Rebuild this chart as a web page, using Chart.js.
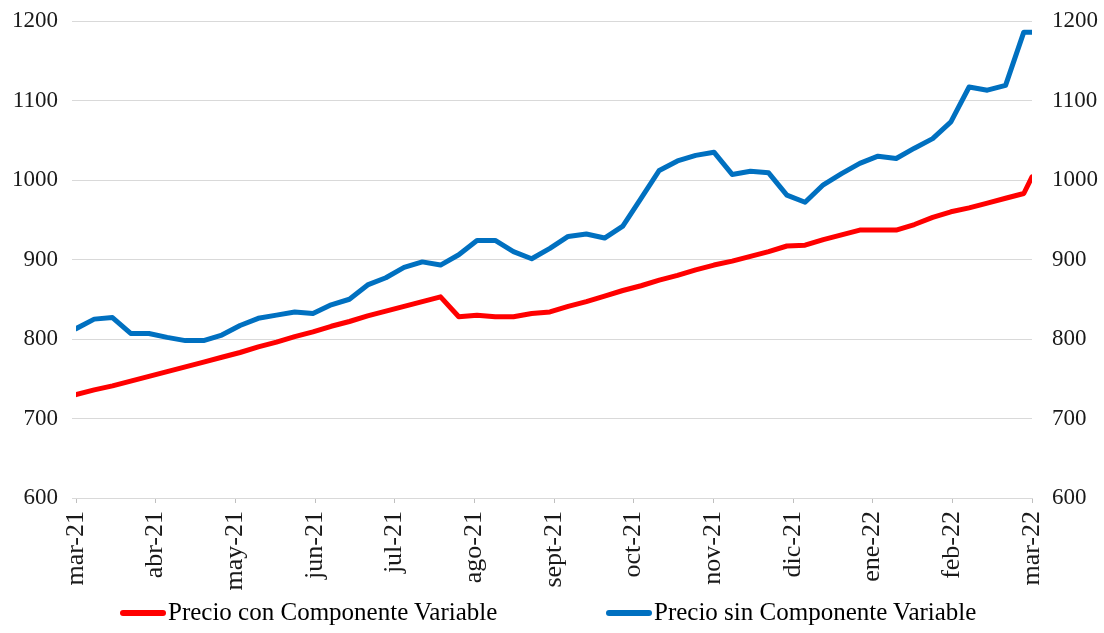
<!DOCTYPE html>
<html>
<head>
<meta charset="utf-8">
<script src="https://cdn.jsdelivr.net/npm/chart.js@4"></script>
<style>
    body { margin: 0; background: #fff; }
    #wrap { position: relative; width: 1104px; height: 633px; }
    #legenda { position: absolute; left: 0; top: 597px; width: 1104px; height: 30px;
        font-family: 'Liberation Serif', 'Times New Roman', serif; font-size: 25px; color: #000; }
    .item { position: absolute; top: 0; line-height: 30px; white-space: nowrap; }
    .linha { display: inline-block; width: 46px; height: 6px; border-radius: 3px; vertical-align: middle; margin-right: 2px; margin-top: -3px; }
</style>
</head>
<body>
<div id="wrap">
    <canvas id="chart-precios"></canvas>
    <div id="legenda"></div>
</div>
<script>
// meses del eje
const meses = ['mar-21', 'abr-21', 'may-21', 'jun-21', 'jul-21', 'ago-21', 'sept-21',
    'oct-21', 'nov-21', 'dic-21', 'ene-22', 'feb-22', 'mar-22'];

// semanas desde el inicio (la ultima es parcial)
const semanas = [0, 1, 2, 3, 4, 5, 6, 7, 8, 9, 10, 11, 12, 13, 14, 15, 16, 17, 18, 19,
    20, 21, 22, 23, 24, 25, 26, 27, 28, 29, 30, 31, 32, 33, 34, 35, 36, 37, 38, 39,
    40, 41, 42, 43, 44, 45, 46, 47, 48, 49, 50, 51, 52, 52.45];
const totalSemanas = 52.45;

const conVariable = [730, 736, 741, 747, 753, 759, 765, 771, 777, 783,
    790, 796, 803, 809, 816, 822, 829, 835, 841, 847,
    853, 828, 830, 828, 828, 832, 834, 841, 847, 854,
    861, 867, 874, 880, 887, 893, 898, 904, 910, 917,
    918, 925, 931, 937, 937, 937, 944, 953, 960, 965,
    971, 977, 983, 1004];

const sinVariable = [813, 825, 827, 807, 807, 802, 798, 798, 805, 817,
    826, 830, 834, 832, 843, 850, 868, 877, 890, 897,
    893, 906, 924, 924, 910, 901, 914, 929, 932, 927,
    942, 977, 1012, 1024, 1031, 1035, 1007, 1011, 1009, 981,
    972, 994, 1008, 1021, 1030, 1027, 1040, 1052, 1073, 1117,
    1113, 1119, 1186, 1186];

const series = [
    {label: 'Precio con Componente Variable', valores: conVariable, color: '#FF0000'},
    {label: 'Precio sin Componente Variable', valores: sinVariable, color: '#0070C0'}
];

const fonte = "'Liberation Serif', 'Times New Roman', serif";
Chart.defaults.font.family = fonte;
Chart.defaults.color = '#1a1a1a';

function pontos(valores) {
    return semanas.map((s, i) => ({x: s * 12 / totalSemanas, y: valores[i]}));
}

function semSeparador(value) {
    return String(value);
}

// ancho fijo del eje y sin relleno vertical
function ajusteEje(ancho) {
    return function (scale) {
        scale.width = ancho;
        scale.paddingTop = 0;
        scale.paddingBottom = 0;
    };
}

const ctx = document.getElementById('chart-precios').getContext('2d');
const config = {
    type: 'line',
    data: {
        datasets: series.map(s => ({
            label: s.label,
            data: pontos(s.valores),
            borderColor: s.color,
            backgroundColor: s.color,
            borderWidth: 5,
            pointRadius: 0,
            tension: 0,
            borderJoinStyle: 'round',
            borderCapStyle: 'round',
            yAxisID: 'y'
        }))
    },
    options: {
        responsive: true,
        maintainAspectRatio: false,
        animation: false,
        layout: {padding: {top: 21, bottom: 40, left: 0, right: 0}},
        plugins: {
            legend: {display: false},
            tooltip: {enabled: false}
        },
        scales: {
            x: {
                type: 'linear',
                min: 0,
                max: 12,
                grid: {display: true, drawOnChartArea: false, color: '#bfbfbf', tickLength: 5},
                border: {display: true, color: '#d9d9d9'},
                ticks: {
                    stepSize: 1,
                    autoSkip: false,
                    minRotation: 90,
                    maxRotation: 90,
                    padding: 8,
                    font: {size: 26},
                    callback: function (value) {
                        return meses[value];
                    }
                },
                afterFit: function (scale) {
                    scale.height = 95;
                }
            },
            y: {
                position: 'left',
                min: 600,
                max: 1200,
                grid: {color: '#d9d9d9', tickLength: 4},
                border: {display: false},
                ticks: {stepSize: 100, padding: 14, font: {size: 23}, callback: semSeparador},
                afterFit: ajusteEje(76)
            },
            y1: {
                position: 'right',
                min: 600,
                max: 1200,
                grid: {display: false},
                border: {display: false},
                ticks: {stepSize: 100, padding: 12, font: {size: 23}, callback: semSeparador},
                afterFit: ajusteEje(72)
            }
        }
    }
};
const grafico = new Chart(ctx, config);

// leyenda en html
const posLeyenda = [120, 606];
const legenda = document.getElementById('legenda');
series.forEach((s, i) => {
    const item = document.createElement('div');
    item.className = 'item';
    item.style.left = posLeyenda[i] + 'px';
    item.innerHTML = '<span class="linha" style="background:' + s.color + '"></span>' + s.label;
    legenda.appendChild(item);
});
</script>
</body>
</html>
